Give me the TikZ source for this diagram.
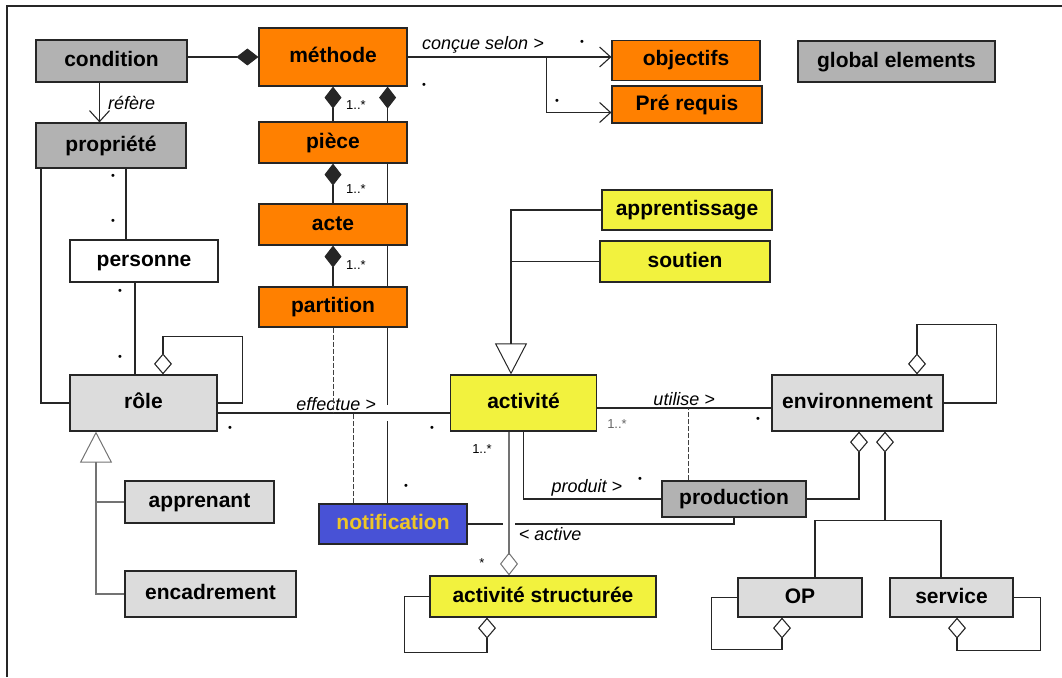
\documentclass[tikz,border=0pt]{standalone}
\usepackage{fontspec}
\setmainfont{Liberation Sans}
\usepackage{tikz}
\usetikzlibrary{arrows.meta,positioning,backgrounds}

\definecolor{orangebox}{RGB}{255,128,0}
\definecolor{graybox}{RGB}{178,178,178}
\definecolor{lightbox}{RGB}{220,220,220}
\definecolor{yellowbox}{RGB}{242,242,62}
\definecolor{bluebox}{RGB}{72,82,214}
\definecolor{notiftext}{RGB}{238,198,40}

\begin{document}
\begin{tikzpicture}[x=1pt, y=-1pt,
    box/.style={draw=black!85, line width=1.2pt, inner sep=0pt, minimum height=41,
        text height=15pt, text depth=4pt, font=\fontsize{21}{25}\selectfont\bfseries},
    lbl/.style={inner sep=1pt, font=\fontsize{18}{21}\selectfont\itshape},
    mult/.style={inner sep=0pt, font=\fontsize{13}{15}\selectfont},
    dot/.style={inner sep=0pt, font=\fontsize{11}{12}\selectfont},
    link/.style={draw=black!85, line width=1.1pt},
    genlink/.style={draw=black!55, line width=1.1pt},
    dash line/.style={draw=black!75, line width=1pt, dash pattern=on 5pt off 2pt},
    comp/.style={{Diamond[length=22pt,width=17pt]}-},
    aggr/.style={{Diamond[open,length=21pt,width=18pt]}-},
    aggrend/.style={-{Diamond[open,length=23pt,width=18pt,line width=1pt]}},
    gen/.style={-{Triangle[open,length=31pt,width=32pt,line width=1pt]}},
    nav/.style={-{Straight Barb[length=11pt,width=20pt]}},
    halo/.style={preaction={draw=white,line width=16pt,-}},
    thinhalo/.style={preaction={draw=white,line width=12pt,-}}]

\useasboundingbox (0,0) rectangle (1062,677);
\draw[line width=1.3pt, black!85] (7,677) -- (7,6) -- (1062,6);

\node[box, fill=graybox, minimum width=151, minimum height=42] (condition) at (111.5,61) {condition};
\node[box, fill=orangebox, minimum width=148, minimum height=58] (methode) at (333,57) {méthode};
\node[box, fill=orangebox, minimum width=148, minimum height=40] (objectifs) at (686,60.5) {objectifs};
\node[box, fill=orangebox, minimum width=150, minimum height=37] (prerequis) at (687,104.5) {Pré requis};
\node[box, fill=graybox, minimum width=197] (global) at (896.5,61.5) {global elements};
\node[box, fill=graybox, minimum width=150, minimum height=45] (propriete) at (111,145.5) {propriété};
\node[box, fill=orangebox, minimum width=148] (piece) at (333,142.5) {pièce};
\node[box, fill=orangebox, minimum width=148] (acte) at (333,224.5) {acte};
\node[box, fill=white, minimum width=148, minimum height=42] (personne) at (144,261) {personne};
\node[box, fill=orangebox, minimum width=148, minimum height=40] (partition) at (333,307) {partition};
\node[box, fill=yellowbox, minimum width=170, minimum height=40] (apprentissage) at (687,210) {apprentissage};
\node[box, fill=yellowbox, minimum width=170] (soutien) at (685,261.5) {soutien};
\node[box, fill=lightbox, minimum width=147, minimum height=56] (role) at (143.5,403) {rôle};
\node[box, fill=yellowbox, minimum width=146, minimum height=56] (activite) at (523.5,403) {activité};
\node[box, fill=lightbox, minimum width=171, minimum height=56] (environnement) at (857.5,403) {environnement};
\node[box, fill=lightbox, minimum width=149, minimum height=42] (apprenant) at (199.5,502) {apprenant};
\node[box, fill=lightbox, minimum width=171, minimum height=46] (encadrement) at (210.5,594) {encadrement};
\node[box, fill=bluebox, text=notiftext, minimum width=148, minimum height=40] (notification) at (393,524) {notification};
\node[box, fill=graybox, minimum width=144, minimum height=36] (production) at (734,499) {production};
\node[box, fill=yellowbox, minimum width=226] (activitestruct) at (543,596.5) {activité structurée};
\node[box, fill=lightbox, minimum width=124, minimum height=39] (op) at (800,597.5) {OP};
\node[box, fill=lightbox, minimum width=123, minimum height=39] (service) at (951.5,597.5) {service};

\coordinate (methright) at ([xshift=-20pt]methode.south east);
\coordinate (split) at ([xshift=139pt]methode.east);
\coordinate (eff) at ([yshift=-10pt]role.east);
\coordinate (uti) at ([yshift=-5pt]activite.east);
\coordinate (rolegen) at ([xshift=-47.5pt]role.south);
\coordinate (actgen) at ([xshift=-12.5pt]activite.north);
\coordinate (envsplit) at ([xshift=27.5pt,yshift=-89pt]environnement.south);

\begin{scope}[on background layer]
  \draw[link, comp] (methright) -- (methright |- notification.north);
  \draw[link, halo] (eff) -- (eff -| activite.west)
      node[lbl, pos=0.51, above=1pt] (effectue) {effectue >};
  \draw[link, comp] (methode.west) -- (methode.west -| condition.east);
  \draw[link, nav] ([xshift=-12pt]condition.south) -- ([xshift=-12pt]condition.south |- propriete.north)
      node[lbl, midway, right=7pt] (refere) {réfère};
  \draw[link, nav] (methode.east) -- (methode.east -| objectifs.west)
      node[lbl, pos=0.37, above=2pt] (concue) {conçue selon >};
  \draw[link, nav] (split) |- ([yshift=-8pt]prerequis.west);
  \draw[link, comp] (methode.south) -- (piece.north);
  \draw[link, comp] (piece.south) -- (acte.north);
  \draw[link, comp] (acte.south) -- (partition.north);
  \draw[dash line] (partition.south) -- (partition.south |- eff);
  \draw[dash line] ([xshift=-40pt]notification.north) -- ([xshift=-40pt]notification.north |- eff);
  \draw[link] ([xshift=15pt]propriete.south) -- ([xshift=15pt]propriete.south |- personne.north);
  \draw[link] ([xshift=-70pt]propriete.south) |- (role.west);
  \draw[link] ([xshift=-9pt]personne.south) -- ([xshift=-9pt]personne.south |- role.north);
  \draw[link, aggr] ([xshift=19.5pt]role.north) -- ++(0,-38) -| ([xshift=25pt]role.east) -- (role.east);
  \draw[genlink, gen] (encadrement.west) -| (rolegen);
  \draw[genlink] (apprenant.west) -- (apprenant.west -| rolegen);
  \draw[link, gen] (apprentissage.west) -| (actgen);
  \draw[link] (soutien.west) -- (soutien.west -| actgen);
  \draw[link] (uti) -- (uti -| environnement.west)
      node[lbl, midway, above=1pt] (utilise) {utilise >};
  \draw[dash line] ([xshift=-46pt]production.north) -- ([xshift=-46pt]production.north |- uti);
  \draw[link, aggr] ([xshift=59.5pt]environnement.north) -- ++(0,-50) -| ([xshift=53pt]environnement.east) -- (environnement.east);
  \draw[link, aggr] ([xshift=1.5pt]environnement.south) |- (production.east);
  \draw[link, aggr] ([xshift=27.5pt]environnement.south) -- (envsplit);
  \draw[link] ([xshift=15pt]op.north) |- (envsplit) -| ([xshift=-10.5pt]service.north);
  \draw[link] (activite.south) |- (production.west)
      node[lbl, pos=0.73, above=1pt] (produit) {produit >};
  \draw[link] (notification.east) -| (production.south)
      node[lbl, pos=0.155, below=2pt] (active) {< active};
  \draw[link, line width=2.4pt, draw=black!55, thinhalo, aggrend] ([xshift=-14.5pt]activite.south) -- ([xshift=-14.5pt]activite.south |- activitestruct.north);
  \draw[link, aggr] ([xshift=-56pt]activitestruct.south) -- ++(0,35) -| ([xshift=-25pt]activitestruct.west) -- (activitestruct.west);
  \draw[link, aggr] ([xshift=-18pt]op.south) -- ++(0,32) -| ([xshift=-26pt]op.west) -- (op.west);
  \draw[link, aggr] ([xshift=5.5pt]service.south) -- ++(0,33) -| ([xshift=27pt]service.east) -- (service.east);
\end{scope}

\node[mult] (m1) at (356,105) {1..*};
\node[mult] (m2) at (356,189) {1..*};
\node[mult] (m3) at (356,265) {1..*};
\node[mult] (m4) at (482,449) {1..*};
\node[mult, text=black!60] (m5) at (617,424) {1..*};
\node[mult] (m6) at (482,563) {*};

\node[dot] (d1) at (582,43) {•};
\node[dot] (d2) at (424,86) {•};
\node[dot] (d3) at (557,102) {•};
\node[dot] (d4) at (113,177) {•};
\node[dot] (d5) at (113,222) {•};
\node[dot] (d6) at (120,292) {•};
\node[dot] (d7) at (120,358) {•};
\node[dot] (d8) at (230,429) {•};
\node[dot] (d9) at (432,429) {•};
\node[dot] (d10) at (406,487) {•};
\node[dot] (d11) at (758,420) {•};
\node[dot] (d12) at (640,480) {•};
\end{tikzpicture}
\end{document}
